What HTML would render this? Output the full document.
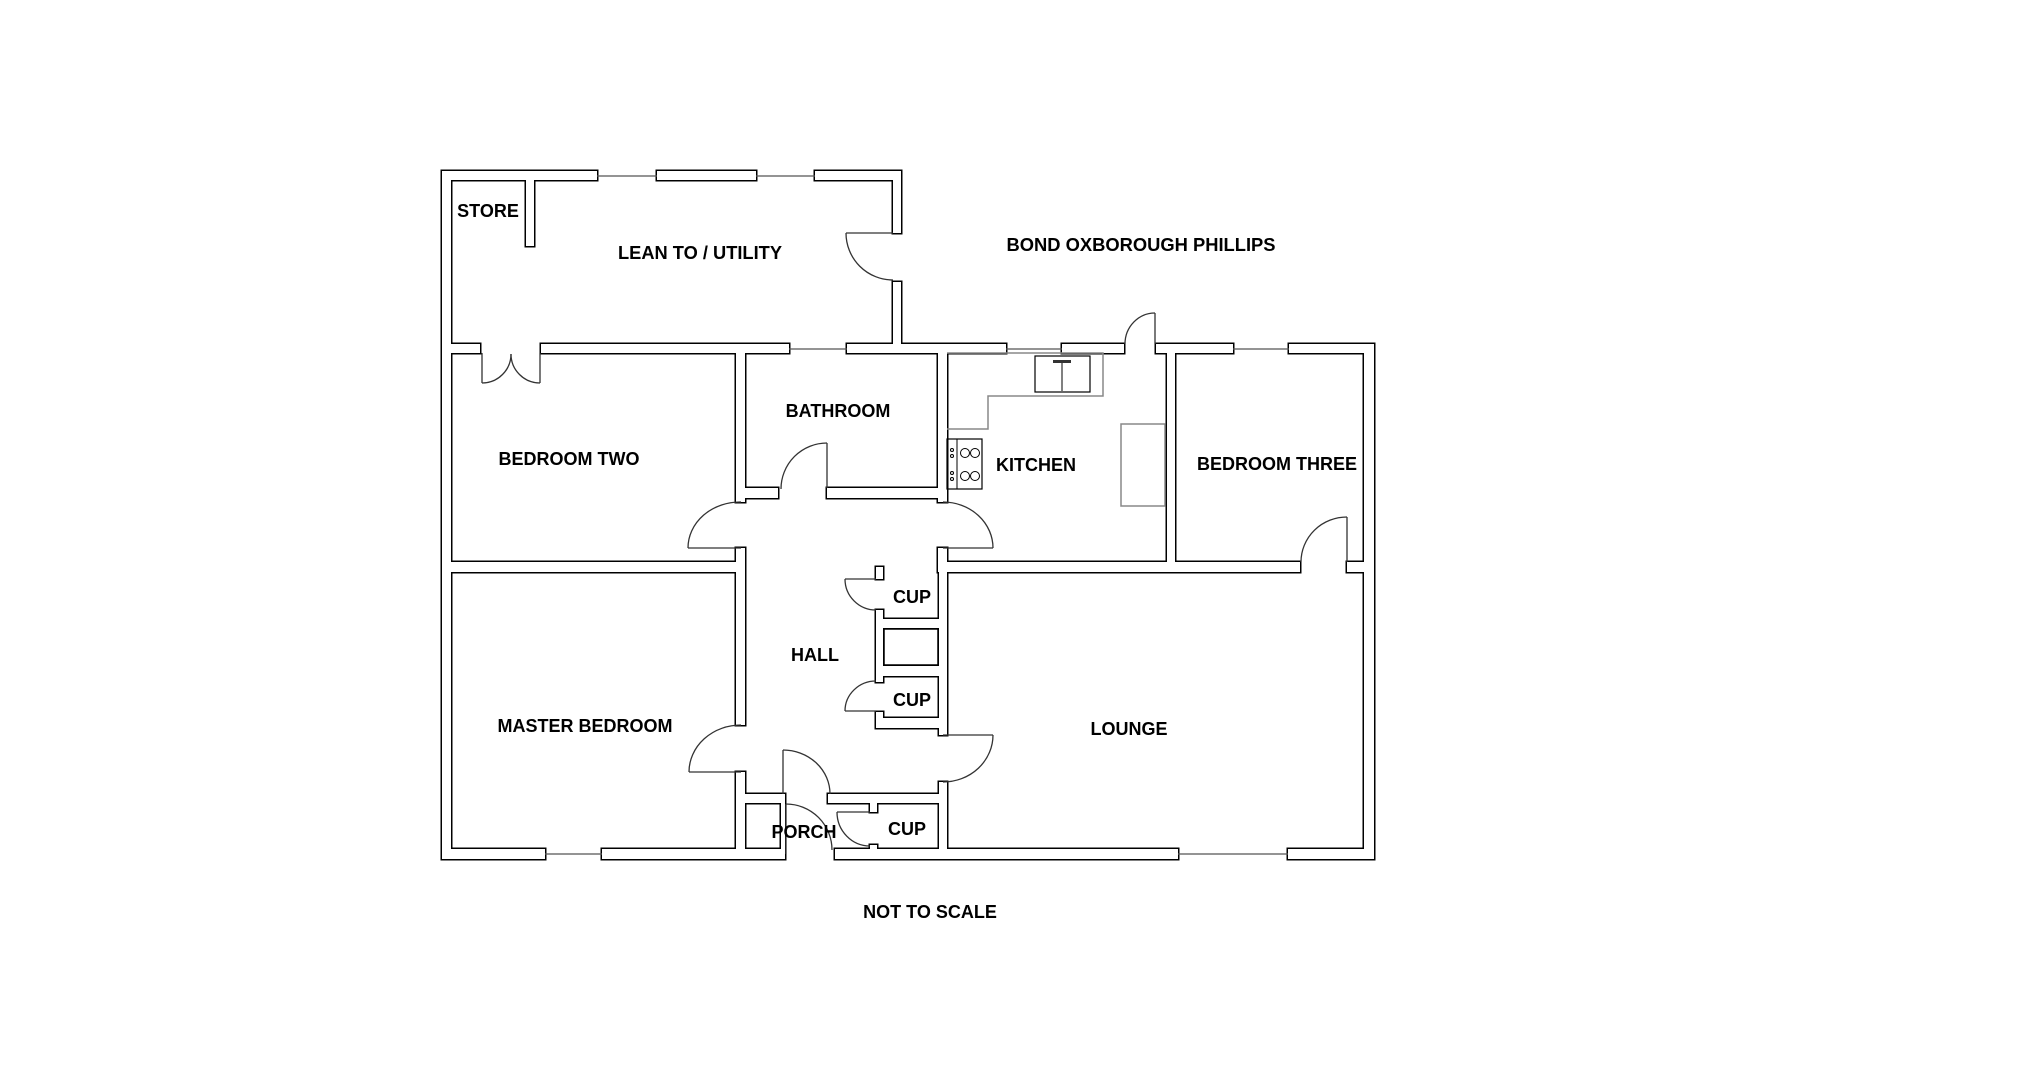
<!DOCTYPE html>
<html><head><meta charset="utf-8"><style>
html,body{margin:0;padding:0;background:#fff;}
svg{display:block;}
text{font-family:"Liberation Sans",Arial,sans-serif;font-weight:bold;font-size:18px;fill:#000;text-anchor:middle;dominant-baseline:central;}
</style></head><body>
<svg width="2025" height="1069" viewBox="0 0 2025 1069" xmlns="http://www.w3.org/2000/svg">
<rect width="2025" height="1069" fill="#fff"/>
<defs>
<g id="walls">
<rect x="442" y="171" width="155" height="9"/>
<rect x="657" y="171" width="99" height="9"/>
<rect x="815" y="171" width="86" height="9"/>
<rect x="442" y="171" width="9" height="688"/>
<rect x="893" y="171" width="8" height="62"/>
<rect x="893" y="282" width="8" height="71"/>
<rect x="526" y="176" width="8" height="70"/>
<rect x="447" y="344" width="33" height="9"/>
<rect x="541" y="344" width="248" height="9"/>
<rect x="847" y="344" width="159" height="9"/>
<rect x="1062" y="344" width="62" height="9"/>
<rect x="1156" y="344" width="77" height="9"/>
<rect x="1289" y="344" width="85" height="9"/>
<rect x="1364" y="344" width="10" height="515"/>
<rect x="736" y="349" width="9" height="153"/>
<rect x="736" y="548" width="9" height="177"/>
<rect x="736" y="772" width="9" height="87"/>
<rect x="736" y="488" width="42" height="10"/>
<rect x="827" y="488" width="120" height="10"/>
<rect x="938" y="349" width="9" height="153"/>
<rect x="938" y="548" width="9" height="24"/>
<rect x="1167" y="349" width="8" height="223"/>
<rect x="447" y="562" width="298" height="10"/>
<rect x="938" y="562" width="362" height="10"/>
<rect x="1347" y="562" width="27" height="10"/>
<rect x="876" y="567" width="7" height="12"/>
<rect x="876" y="610" width="7" height="72"/>
<rect x="876" y="712" width="7" height="16"/>
<rect x="939" y="567" width="8" height="168"/>
<rect x="939" y="782" width="8" height="77"/>
<rect x="876" y="619" width="68" height="9"/>
<rect x="876" y="666" width="68" height="10"/>
<rect x="876" y="718" width="71" height="10"/>
<rect x="741" y="794" width="41" height="9"/>
<rect x="828" y="794" width="119" height="9"/>
<rect x="781" y="794" width="4" height="65"/>
<rect x="870" y="799" width="7" height="13"/>
<rect x="870" y="845" width="7" height="9"/>
<rect x="442" y="849" width="103" height="10"/>
<rect x="602" y="849" width="183" height="10"/>
<rect x="835" y="849" width="343" height="10"/>
<rect x="1288" y="849" width="86" height="10"/>
</g>
</defs>
<g fill="#000" stroke="#000" stroke-width="3"><use href="#walls"/></g>
<g fill="#fff"><use href="#walls"/></g>
<g stroke="#555" stroke-width="1.2" fill="none">
<line x1="597" y1="176" x2="657" y2="176"/>
<line x1="756" y1="176" x2="815" y2="176"/>
<line x1="789" y1="349" x2="847" y2="349"/>
<line x1="1006" y1="349" x2="1062" y2="349"/>
<line x1="1233" y1="349" x2="1289" y2="349"/>
<line x1="545" y1="854" x2="602" y2="854"/>
<line x1="1178" y1="854" x2="1288" y2="854"/>
</g>
<g stroke="#333" stroke-width="1.3" fill="none">
<line x1="846" y1="233" x2="893" y2="233"/><path d="M846,233 A47,47 0 0 0 893,280"/>
<line x1="482" y1="353" x2="482" y2="383"/><path d="M482,383 A29,29 0 0 0 511,354"/>
<line x1="540" y1="353" x2="540" y2="383"/><path d="M540,383 A29,29 0 0 1 511,354"/>
<line x1="827" y1="488" x2="827" y2="443"/><path d="M827,443 A46,46 0 0 0 781,489"/>
<line x1="741" y1="548" x2="688" y2="548"/><path d="M688,548 A52,46 0 0 1 741,502"/>
<line x1="741" y1="772" x2="689" y2="772"/><path d="M689,772 A52,47 0 0 1 741,725"/>
<line x1="1155" y1="344" x2="1155" y2="313"/><path d="M1155,313 A30,31 0 0 0 1125,344"/>
<line x1="943" y1="548" x2="993" y2="548"/><path d="M993,548 A50,46 0 0 0 943,502"/>
<line x1="1347" y1="562" x2="1347" y2="517"/><path d="M1347,517 A46,45 0 0 0 1301,562"/>
<line x1="943" y1="735" x2="993" y2="735"/><path d="M993,735 A50,47 0 0 1 943,782"/>
<line x1="783" y1="794" x2="783" y2="750"/><path d="M783,750 A47,44 0 0 1 830,794"/>
<line x1="786" y1="854" x2="786" y2="804"/><path d="M786,804 A46,46 0 0 1 832,850"/>
<line x1="845" y1="579" x2="876" y2="579"/><path d="M845,579 A31,31 0 0 0 876,610"/>
<line x1="845" y1="711" x2="876" y2="711"/><path d="M845,711 A31,30 0 0 1 876,681"/>
<line x1="837" y1="812" x2="870" y2="812"/><path d="M837,812 A33,34 0 0 0 870,846"/>
</g>
<rect x="884" y="629" width="54" height="36" fill="#fff" stroke="#000" stroke-width="1.5"/>
<path d="M947,353 L1103,353 L1103,396 L988,396 L988,429 L947,429" fill="none" stroke="#888" stroke-width="1.5"/>
<rect x="1035" y="356" width="55" height="36" fill="none" stroke="#000" stroke-width="1.2"/>
<line x1="1062" y1="361" x2="1062" y2="391" stroke="#000" stroke-width="1"/>
<rect x="1053" y="360" width="18" height="3" fill="#333"/>
<rect x="947" y="439" width="35" height="50" fill="none" stroke="#000" stroke-width="1.2"/>
<line x1="957" y1="439" x2="957" y2="489" stroke="#000" stroke-width="1"/>
<g fill="none" stroke="#000" stroke-width="1">
<circle cx="965" cy="453" r="4.5"/><circle cx="975" cy="453" r="4.5"/>
<circle cx="965" cy="476" r="4.5"/><circle cx="975" cy="476" r="4.5"/>
<circle cx="952" cy="450" r="1.5"/><circle cx="952" cy="456" r="1.5"/>
<circle cx="952" cy="473" r="1.5"/><circle cx="952" cy="479" r="1.5"/>
</g>
<rect x="1121" y="424" width="44" height="82" fill="none" stroke="#888" stroke-width="1.5"/>
<text x="488" y="211">STORE</text>
<text x="700" y="253" textLength="164" lengthAdjust="spacingAndGlyphs">LEAN TO / UTILITY</text>
<text x="1141" y="245" textLength="269" lengthAdjust="spacingAndGlyphs">BOND OXBOROUGH PHILLIPS</text>
<text x="838" y="411">BATHROOM</text>
<text x="569" y="459">BEDROOM TWO</text>
<text x="1036" y="465">KITCHEN</text>
<text x="1277" y="464">BEDROOM THREE</text>
<text x="912" y="597">CUP</text>
<text x="815" y="655">HALL</text>
<text x="912" y="700">CUP</text>
<text x="585" y="726">MASTER BEDROOM</text>
<text x="1129" y="729">LOUNGE</text>
<text x="804" y="832">PORCH</text>
<text x="907" y="829">CUP</text>
<text x="930" y="912">NOT TO SCALE</text>
</svg>
</body></html>
